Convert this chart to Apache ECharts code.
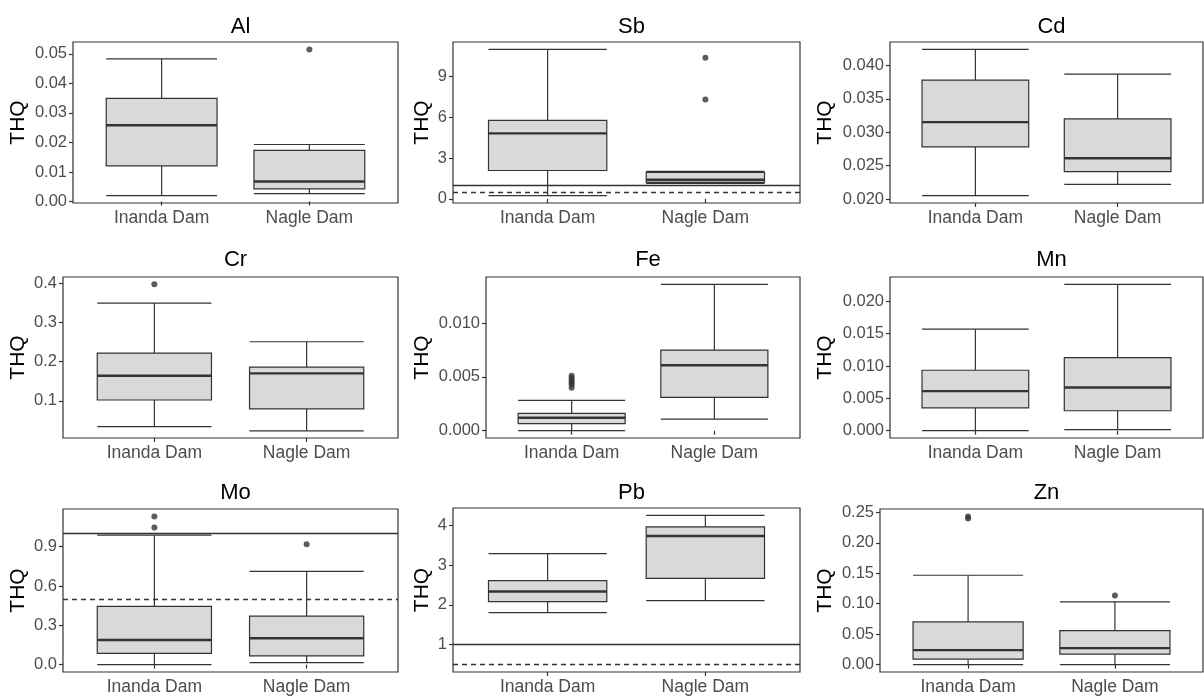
<!DOCTYPE html>
<html><head><meta charset="utf-8">
<script src="https://cdn.jsdelivr.net/npm/echarts@6/dist/echarts.min.js"></script>
<style>html,body{margin:0;padding:0;background:#fff}#c{width:1204px;height:699px}</style>
</head><body><div id="c"></div>
<script>
// ---------- data ----------
const categories = ['Inanda Dam', 'Nagle Dam'];
const elements = ['Al', 'Sb', 'Cd', 'Cr', 'Fe', 'Mn', 'Mo', 'Pb', 'Zn'];
// box stats: [lower whisker, Q1, median, Q3, upper whisker]
const alInanda = [0.0020, 0.0121, 0.0258, 0.0349, 0.0483];
const alNagle  = [0.0027, 0.0043, 0.0068, 0.0173, 0.0193];
const alOutInanda = [];
const alOutNagle  = [0.0515];
const sbInanda = [0.24, 2.09, 4.82, 5.78, 11.0];
const sbNagle  = [1.15, 1.21, 1.41, 1.95, 2.02];
const sbOutInanda = [];
const sbOutNagle  = [10.38, 7.31];
const cdInanda = [0.0205, 0.0278, 0.0315, 0.0378, 0.0424];
const cdNagle  = [0.0222, 0.0241, 0.0261, 0.0320, 0.0387];
const cdOutInanda = [];
const cdOutNagle  = [];
const crInanda = [0.034, 0.102, 0.164, 0.222, 0.350];
const crNagle  = [0.023, 0.079, 0.170, 0.186, 0.251];
const crOutInanda = [0.398];
const crOutNagle  = [];
const feInanda = [0.0000, 0.00065, 0.0012, 0.00161, 0.00281];
const feNagle  = [0.00108, 0.00309, 0.00608, 0.0075, 0.01361];
const feOutInanda = [0.0051, 0.0049, 0.0047, 0.0045, 0.0043, 0.0040];
const feOutNagle  = [];
const mnInanda = [0.0000, 0.00354, 0.00611, 0.00934, 0.01569];
const mnNagle  = [0.00015, 0.00308, 0.00668, 0.01129, 0.02262];
const mnOutInanda = [];
const mnOutNagle  = [];
const moInanda = [0.0, 0.085, 0.1875, 0.444, 0.988];
const moNagle  = [0.015, 0.066, 0.201, 0.370, 0.712];
const moOutInanda = [1.131, 1.046];
const moOutNagle  = [0.918];
const pbInanda = [1.806, 2.08, 2.334, 2.607, 3.286];
const pbNagle  = [2.105, 2.666, 3.73, 3.96, 4.247];
const pbOutInanda = [];
const pbOutNagle  = [];
const znInanda = [0.0, 0.0088, 0.0237, 0.070, 0.1467];
const znNagle  = [0.0, 0.017, 0.027, 0.0556, 0.1031];
const znOutInanda = [0.240, 0.243];
const znOutNagle  = [0.1136];
// tick labels per panel
const alTicks = [0, 0.01, 0.02, 0.03, 0.04, 0.05];
const sbTicks = [0, 3, 6, 9];
const cdTicks = [0.020, 0.025, 0.030, 0.035, 0.040];
const crTicks = [0.1, 0.2, 0.3, 0.4];
const feTicks = [0.000, 0.005, 0.010];
const mnTicks = [0.000, 0.005, 0.010, 0.015, 0.020];
const moTicks = [0.0, 0.3, 0.6, 0.9];
const pbTicks = [1, 2, 3, 4];
const znTicks = [0.00, 0.05, 0.10, 0.15, 0.20, 0.25];
// reference lines (solid, dashed) for Sb, Mo, Pb
const refSolid = 1;
const refDashed = 0.5;

// ---------- layout / style ----------
const panels = [
  {box:[alInanda, alNagle], out:[alOutInanda, alOutNagle], ticks:alTicks, dec:2, range:[-0.0005, 0.054], grid:[73, 42, 325, 161], nameGap:44, ref:false},
  {box:[sbInanda, sbNagle], out:[sbOutInanda, sbOutNagle], ticks:sbTicks, dec:0, range:[-0.30, 11.54], grid:[453, 42, 347, 161], nameGap:20, ref:true},
  {box:[cdInanda, cdNagle], out:[cdOutInanda, cdOutNagle], ticks:cdTicks, dec:3, range:[0.0194, 0.0435], grid:[890, 42, 313, 161], nameGap:54, ref:false},
  {box:[crInanda, crNagle], out:[crOutInanda, crOutNagle], ticks:crTicks, dec:1, range:[0.0047, 0.4167], grid:[63, 277, 335, 161], nameGap:34, ref:false},
  {box:[feInanda, feNagle], out:[feOutInanda, feOutNagle], ticks:feTicks, dec:3, range:[-0.00068, 0.01429], grid:[486, 277, 314, 161], nameGap:53, ref:false},
  {box:[mnInanda, mnNagle], out:[mnOutInanda, mnOutNagle], ticks:mnTicks, dec:3, range:[-0.00113, 0.02375], grid:[890, 277, 313, 161], nameGap:54, ref:false},
  {box:[moInanda, moNagle], out:[moOutInanda, moOutNagle], ticks:moTicks, dec:1, range:[-0.0566, 1.188], grid:[63, 509, 335, 163], nameGap:34, ref:true},
  {box:[pbInanda, pbNagle], out:[pbOutInanda, pbOutNagle], ticks:pbTicks, dec:0, range:[0.313, 4.434], grid:[453, 508, 347, 164], nameGap:20, ref:true},
  {box:[znInanda, znNagle], out:[znOutInanda, znOutNagle], ticks:znTicks, dec:2, range:[-0.0122, 0.2555], grid:[880, 509, 323, 163], nameGap:44, ref:false}
];
const titleTops = [11, 11, 11, 244, 244, 244, 477, 477, 477];

const FONT = '"Liberation Sans", Arial, sans-serif';
const LINE = '#333333';
const BOXW = 0.75;

const grids = [], xAxes = [], yAxes = [], series = [], titles = [];

panels.forEach((p, i) => {
  const [l, t, w, h] = p.grid;
  grids.push({left: l, top: t, width: w, height: h, show: true, borderColor: LINE, borderWidth: 1.2, backgroundColor: 'transparent', containLabel: false});
  titles.push({text: elements[i], left: l + w / 2, top: titleTops[i], textAlign: 'center',
    textStyle: {fontFamily: FONT, fontSize: 22, fontWeight: 'normal', color: '#000'}});
  xAxes.push({gridIndex: i, type: 'value', min: 0.4, max: 2.6,
    axisLine: {show: false}, splitLine: {show: false},
    axisTick: {show: true, length: 4, lineStyle: {color: LINE, width: 1.2}, customValues: [1, 2]},
    axisLabel: {show: true, customValues: [1, 2], formatter: v => categories[Math.round(v) - 1] || '',
      color: '#4D4D4D', fontFamily: FONT, fontSize: 17.5, margin: 6}});
  yAxes.push({gridIndex: i, type: 'value', min: p.range[0], max: p.range[1],
    name: 'THQ', nameLocation: 'middle', nameRotate: 90, nameGap: p.nameGap,
    nameTextStyle: {fontFamily: FONT, fontSize: 21, color: '#000'},
    axisLine: {show: false}, splitLine: {show: false},
    axisTick: {show: true, length: 4, lineStyle: {color: LINE, width: 1.2}, customValues: p.ticks},
    axisLabel: {show: true, customValues: p.ticks, formatter: v => Number(v).toFixed(p.dec),
      color: '#4D4D4D', fontFamily: FONT, fontSize: 16.5, margin: 6}});

  const boxData = p.box.map((b, k) => [k + 1].concat(b));
  series.push({
    type: 'custom', xAxisIndex: i, yAxisIndex: i, data: boxData, silent: true,
    encode: {x: 0, y: [1, 2, 3, 4, 5]},
    renderItem: (params, api) => {
      const x = api.value(0);
      const lo = api.coord([x, api.value(1)]);
      const q1 = api.coord([x, api.value(2)]);
      const md = api.coord([x, api.value(3)]);
      const q3 = api.coord([x, api.value(4)]);
      const hi = api.coord([x, api.value(5)]);
      const xl = api.coord([x - BOXW / 2, 0])[0];
      const xr = api.coord([x + BOXW / 2, 0])[0];
      const ls = {stroke: LINE, lineWidth: 1.2};
      return {type: 'group', children: [
        {type: 'line', shape: {x1: lo[0], y1: lo[1], x2: q1[0], y2: q1[1]}, style: ls},
        {type: 'line', shape: {x1: q3[0], y1: q3[1], x2: hi[0], y2: hi[1]}, style: ls},
        {type: 'line', shape: {x1: xl, y1: lo[1], x2: xr, y2: lo[1]}, style: ls},
        {type: 'line', shape: {x1: xl, y1: hi[1], x2: xr, y2: hi[1]}, style: ls},
        {type: 'rect', shape: {x: xl, y: q3[1], width: xr - xl, height: q1[1] - q3[1]},
          style: {fill: '#D9D9D9', stroke: LINE, lineWidth: 1.2}},
        {type: 'line', shape: {x1: xl, y1: md[1], x2: xr, y2: md[1]}, style: {stroke: LINE, lineWidth: 2.4}}
      ]};
    }
  });
  const outData = [];
  p.out.forEach((arr, k) => arr.forEach(v => outData.push([k + 1, v])));
  series.push({
    type: 'scatter', xAxisIndex: i, yAxisIndex: i, data: outData, symbol: 'circle', symbolSize: 6,
    itemStyle: {color: '#333333'}, silent: true, z: 3,
    markLine: p.ref ? {
      silent: true, symbol: 'none', label: {show: false}, animation: false,
      data: [
        {yAxis: refSolid, lineStyle: {color: LINE, width: 1.3, type: 'solid'}},
        {yAxis: refDashed, lineStyle: {color: LINE, width: 1.3, type: [5, 4]}}
      ]
    } : undefined
  });
});

const chart = echarts.init(document.getElementById('c'), null, {renderer: 'canvas'});
chart.setOption({
  animation: false,
  backgroundColor: '#fff',
  title: titles,
  grid: grids,
  xAxis: xAxes,
  yAxis: yAxes,
  series: series
});
</script>
</body></html>
